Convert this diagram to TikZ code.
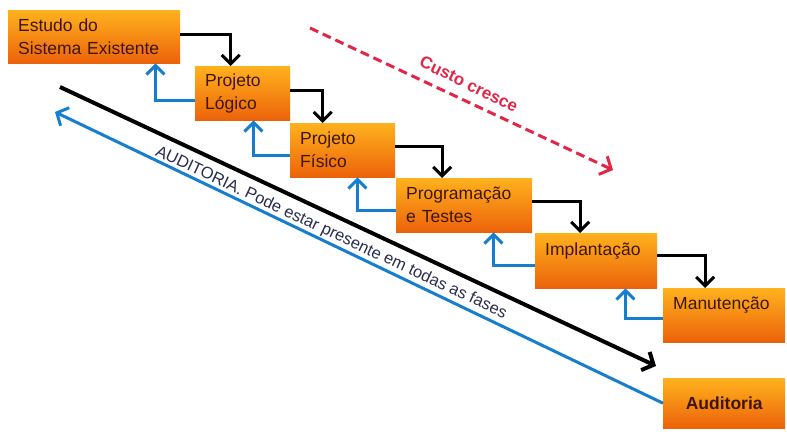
\documentclass[tikz,border=0pt]{standalone}
\usepackage{fontspec}
\setmainfont{Liberation Sans}
\usepackage{tikz}
\usetikzlibrary{positioning}
\usetikzlibrary{arrows.meta}
\definecolor{boxtop}{RGB}{255,178,30}
\definecolor{boxbottom}{RGB}{236,98,10}
\definecolor{boxtext}{RGB}{62,22,0}
\definecolor{backblue}{RGB}{22,126,206}
\definecolor{costred}{RGB}{226,38,72}
\definecolor{audittext}{RGB}{40,44,78}

\begin{document}
\begin{tikzpicture}[x=1pt, y=-1pt,
phasenode/.style={rectangle, top color=boxtop, bottom color=boxbottom, text=boxtext, font=\fontsize{17.5}{23}\selectfont, align=left, anchor=north west, inner xsep=10pt, inner ysep=0pt},
auditnode/.style={phasenode, align=center, font=\fontsize{17.5}{23}\selectfont\bfseries},
steparrow/.style={draw=black, line width=3pt, -{Straight Barb[length=9pt,width=18pt]}},
backarrow/.style={draw=backblue, line width=3pt, -{Straight Barb[length=9pt,width=18pt]}},
diagarrow/.style={line width=4pt, -{Straight Barb[length=9pt,width=20pt]}},
costarrow/.style={draw=costred, line width=3pt, dash pattern=on 9pt off 5pt, -{Straight Barb[length=9pt,width=20pt]}},
]
\useasboundingbox (0,0) rectangle (787,431);

%Nodes
\node[phasenode, text width=152pt, minimum height=53pt] (estudo)    at (8,10)    {Estudo do\\Sistema Existente};
\node[phasenode, text width=75pt,  minimum height=54pt] (logico)    at (195,66)  {Projeto\\Lógico};
\node[phasenode, text width=85pt,  minimum height=54pt] (fisico)    at (290,123) {Projeto\\Físico};
\node[phasenode, text width=116pt, minimum height=54pt] (programa)  at (396,178) {Programação\\e Testes};
\node[phasenode, text width=102pt, minimum height=55pt] (implanta)  at (535,233) {Implantação\\\mbox{}};
\node[phasenode, text width=102pt, minimum height=54pt] (manutencao) at (663,288) {Manutenção\\\mbox{}};
\node[auditnode, text width=102pt, minimum height=50pt] (auditoria) at (663,378) {Auditoria};

\coordinate (blackstart) at (60,87);
\coordinate (blackend)   at (656,366);
\coordinate (bluetip)    at (55,112);
\coordinate (coststart)  at (310,28);
\coordinate (costend)    at (613,170);

%Lines
\draw[steparrow] ([yshift=2pt]estudo.east)   -| ([xshift=-12pt]logico.north);
\draw[steparrow] ([yshift=3pt]logico.east)   -| ([xshift=-20pt]fisico.north);
\draw[steparrow] ([yshift=4pt]fisico.east)   -| ([xshift=-22pt]programa.north);
\draw[steparrow] ([yshift=4pt]programa.east) -| ([xshift=-16pt]implanta.north);
\draw[steparrow] ([yshift=5pt]implanta.east) -| ([xshift=-19pt]manutencao.north);

\draw[backarrow] ([yshift=-7pt]logico.west)     -| ([xshift=-25pt]estudo.south east);
\draw[backarrow] ([yshift=-5pt]fisico.west)     -| ([xshift=-37pt]logico.south east);
\draw[backarrow] ([yshift=-5pt]programa.west)   -| ([xshift=-38pt]fisico.south east);
\draw[backarrow] ([yshift=-5pt]implanta.west)   -| ([xshift=-39pt]programa.south east);
\draw[backarrow] ([yshift=-3pt]manutencao.west) -| ([xshift=-32pt]implanta.south east);

\draw[diagarrow, draw=black] (blackstart) -- (blackend);
\draw[diagarrow, draw=backblue, line width=3pt] (auditoria.west) -- (bluetip);
\draw[costarrow] (coststart) -- (costend);

\node[rotate=-25.1, text=audittext, font=\fontsize{16.5}{18}\selectfont] (auditlabel) at (331,233) {AUDITORIA. Pode estar presente em todas as fases};
\node[rotate=-26, text=costred, font=\fontsize{17}{18}\selectfont\bfseries] (costlabel) at (469,84) {Custo cresce};
\end{tikzpicture}
\end{document}
